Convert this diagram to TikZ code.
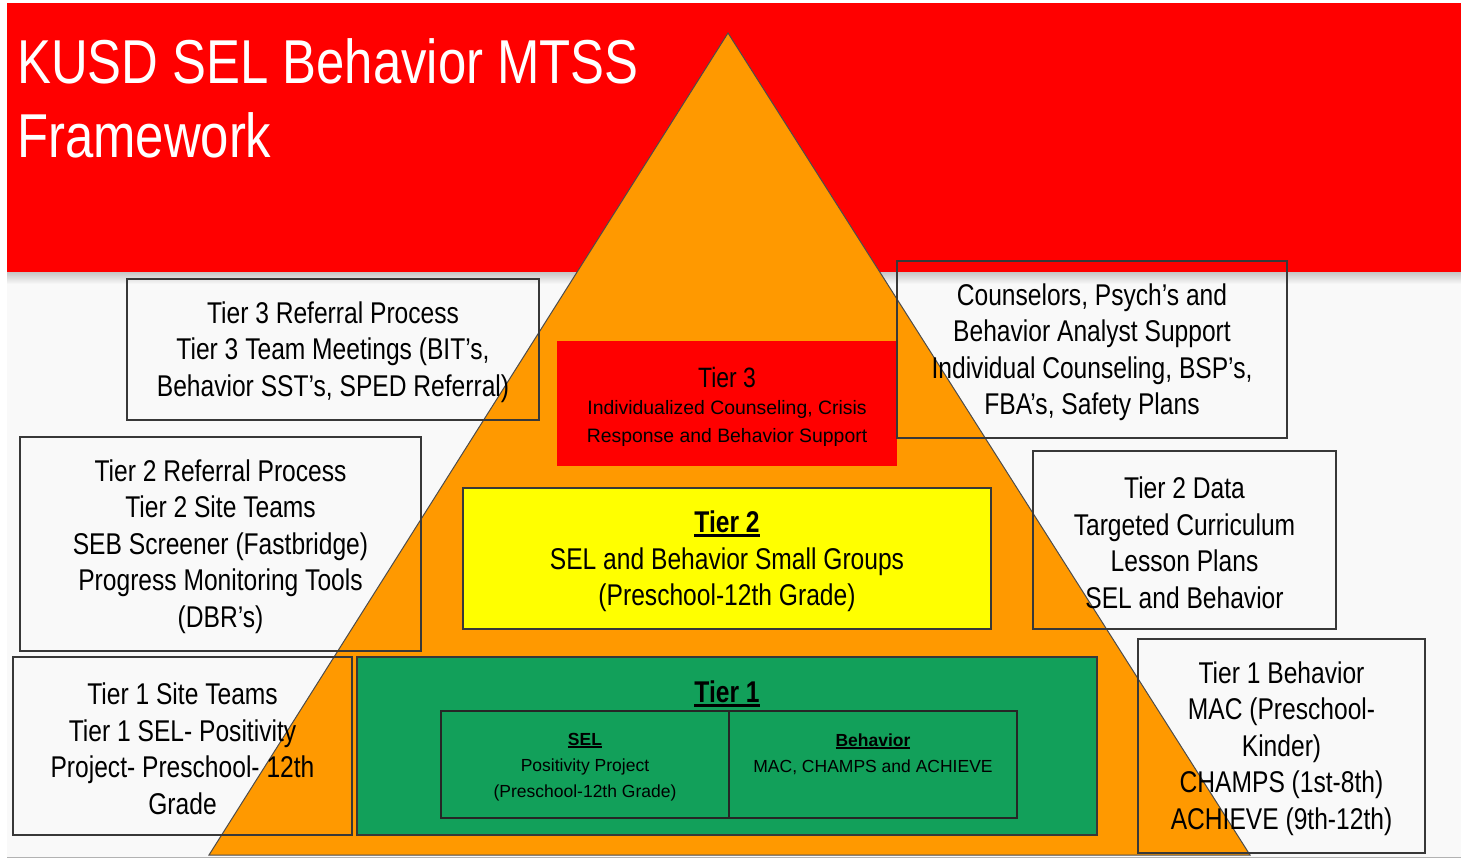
\documentclass[tikz,border=0pt]{standalone}
\usepackage{fontspec}
\setmainfont{Liberation Sans}
\newfontfamily\narrowsans[FakeStretch=0.82]{Liberation Sans}
\usepackage{tikz}
\usetikzlibrary{positioning}
\usepackage{xcolor}

\definecolor{bannerred}{HTML}{FF0000}
\definecolor{pyramidorange}{HTML}{FF9900}
\definecolor{tiertwoyellow}{HTML}{FFFF00}
\definecolor{tieronegreen}{HTML}{12A05A}
\definecolor{slidegray}{HTML}{F9F9F9}
\definecolor{edgegray}{HTML}{383838}

\newlength\ulwd
\newcommand\ulbold[1]{\settowidth\ulwd{\textbf{#1}}\textbf{#1}\hspace{-\ulwd}\rule[-0.14em]{\ulwd}{0.085em}}
\newcommand\topstrut{\rule{0pt}{27pt}}

\begin{document}
\begin{tikzpicture}[x=1pt,y=-1pt,
    sidebox/.style={draw=edgegray, line width=1.4pt, align=center, inner sep=0pt,
        font=\narrowsans\fontsize{30}{36.5}\selectfont},
    tierbox/.style={draw=edgegray, line width=1.4pt, inner sep=0pt},
    bigtext/.style={align=center, inner sep=0pt, font=\narrowsans\fontsize{30}{36.5}\selectfont},
    smalltext/.style={align=center, inner sep=0pt, font=\fontsize{17.5}{26}\selectfont}
]
    \useasboundingbox (0,0) rectangle (1461,861);

    % Slide background and title banner
    \fill[white] (0,0) rectangle (1461,861);
    \fill[slidegray] (7,3) rectangle (1461,857);
    \fill[bannerred] (7,3) rectangle (1461,272);
    \shade[top color=gray!45, bottom color=slidegray] (7,272) rectangle (1461,284);
    \draw[gray!60] (7,857.5) -- (1461,857.5);

    \node[anchor=base west, inner sep=0pt, white, font=\narrowsans\fontsize{62}{75}\selectfont]
        (title1) at (17,84) {KUSD SEL Behavior MTSS};
    \node[anchor=base west, inner sep=0pt, white, font=\narrowsans\fontsize{62}{75}\selectfont]
        (title2) at (17,158) {Framework};

    % Pyramid
    \coordinate (apex) at (728,33);
    \coordinate (baseleft) at (209,855);
    \coordinate (baseright) at (1250,855);
    \draw[fill=pyramidorange, draw=gray!60!black, line width=1pt]
        (apex) -- (baseleft) -- (baseright) -- cycle;

    % Tier 3
    \node[fill=bannerred, inner sep=0pt, minimum width=340pt, minimum height=125pt]
        (tier3) at (727,403.5) {};
    \node[inner sep=0pt, font=\narrowsans\fontsize{28}{32}\selectfont] (tier3head) at (727,377) {Tier 3};
    \node[align=center, inner sep=0pt, font=\fontsize{19.4}{28}\selectfont] (tier3text) at (727,423)
        {Individualized Counseling, Crisis\\Response and Behavior Support};

    % Tier 2
    \node[tierbox, fill=tiertwoyellow, minimum width=528pt, minimum height=141pt]
        (tier2) at (727,558.5) {};
    \node[bigtext] (tier2text) at (727,561.5)
        {\ulbold{Tier 2}\\SEL and Behavior Small Groups\\(Preschool-12th Grade)};

    % Tier 1
    \node[tierbox, fill=tieronegreen, minimum width=740pt, minimum height=178pt]
        (tier1) at (727,746) {};
    \node[bigtext] (tier1head) at (727,694) {\ulbold{Tier 1}};
    \node[draw=black!85, line width=1.5pt, inner sep=0pt, minimum width=576pt, minimum height=107pt]
        (tier1inner) at (729,764.5) {};
    \draw[black!85, line width=1.5pt] (tier1inner.north) -- (tier1inner.south);
    \node[smalltext] (seltext) at (585,767)
        {\ulbold{SEL}\\Positivity Project\\(Preschool-12th Grade)};
    \node[smalltext] (behaviortext) at (873,754)
        {\ulbold{Behavior}\\MAC, CHAMPS and ACHIEVE};

    % Side boxes
    \node[sidebox, minimum width=412pt, minimum height=141pt] (t3referral) at (333,349.5)
        {\topstrut Tier 3 Referral Process\\Tier 3 Team Meetings (BIT’s,\\Behavior SST’s, SPED Referral)};
    \node[sidebox, minimum width=390pt, minimum height=177pt] (t3support) at (1092,349.5)
        {\topstrut Counselors, Psych’s and\\Behavior Analyst Support\\Individual Counseling, BSP’s,\\FBA’s, Safety Plans};
    \node[sidebox, minimum width=401pt, minimum height=214pt] (t2referral) at (220.5,544)
        {\topstrut Tier 2 Referral Process\\Tier 2 Site Teams\\SEB Screener (Fastbridge)\\Progress Monitoring Tools\\(DBR’s)};
    \node[sidebox, minimum width=303pt, minimum height=178pt] (t2data) at (1184.5,540)
        {\topstrut Tier 2 Data\\Targeted Curriculum\\Lesson Plans\\SEL and Behavior};
    \node[sidebox, minimum width=339pt, minimum height=178pt] (t1teams) at (182.5,746)
        {\topstrut Tier 1 Site Teams\\Tier 1 SEL- Positivity\\Project- Preschool- 12th\\Grade};
    \node[sidebox, minimum width=287pt, minimum height=214pt] (t1behavior) at (1281.5,746)
        {\topstrut Tier 1 Behavior\\MAC (Preschool-\\Kinder)\\CHAMPS (1st-8th)\\ACHIEVE (9th-12th)};

\end{tikzpicture}
\end{document}
